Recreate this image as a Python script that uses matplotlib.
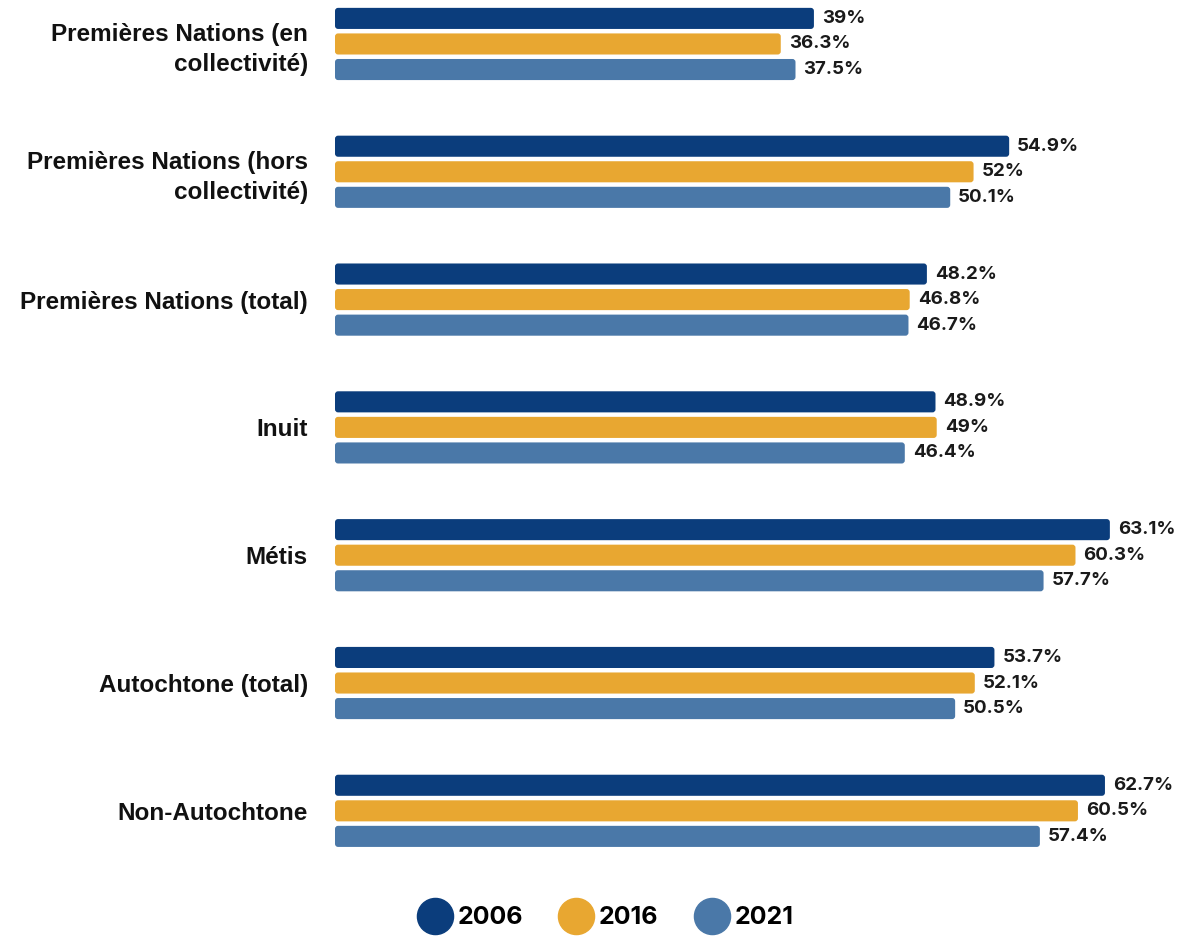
import matplotlib.pyplot as plt
from matplotlib.patches import FancyBboxPatch
from matplotlib.lines import Line2D

plt.rcParams['font.family'] = ['Inter', 'DejaVu Sans']

# data
categories = ["Premières Nations (en\ncollectivité)", "Premières Nations (hors\ncollectivité)",
              "Premières Nations (total)", "Inuit", "Métis", "Autochtone (total)", "Non-Autochtone"]
years = ["2006", "2016", "2021"]
v2006 = [39, 54.9, 48.2, 48.9, 63.1, 53.7, 62.7]
v2016 = [36.3, 52, 46.8, 49, 60.3, 52.1, 60.5]
v2021 = [37.5, 50.1, 46.7, 46.4, 57.7, 50.5, 57.4]
labels2006 = ["39%", "54.9%", "48.2%", "48.9%", "63.1%", "53.7%", "62.7%"]
labels2016 = ["36.3%", "52%", "46.8%", "49%", "60.3%", "52.1%", "60.5%"]
labels2021 = ["37.5%", "50.1%", "46.7%", "46.4%", "57.7%", "50.5%", "57.4%"]
colors = ["#0b3d7c", "#e8a731", "#4a78a8"]

fig = plt.figure(figsize=(11.8, 9.36), dpi=100)
ax = fig.add_axes([335/1180, 66/936, 845/1180, 870/936])

pitch = 0.2
h = 0.165
series = [v2006, v2016, v2021]
lab_series = [labels2006, labels2016, labels2021]
for k in range(3):
    pos = [i + (k - 1) * pitch for i in range(len(categories))]
    bars = ax.barh(pos, series[k], height=h, color=colors[k])
    for b, txt in zip(bars, lab_series[k]):
        b.set_visible(False)
        p = FancyBboxPatch((b.get_x(), b.get_y()), b.get_width(), b.get_height(),
                           boxstyle="round,pad=0,rounding_size=0.25",
                           mutation_aspect=0.096, color=colors[k], lw=0)
        ax.add_patch(p)
        ax.text(b.get_width() + 0.65, b.get_y() + b.get_height()/2, txt,
                va='center', ha='left', fontsize=13.5, fontweight='bold', color='#1a1a1a')

ax.set_xlim(0, 845/12.28)
ax.set_ylim(6.463, -0.344)
ax.set_yticks(range(len(categories)))
ax.set_yticklabels(categories, fontsize=17.5, fontweight='bold', color='#111111',
                   family=['Liberation Sans', 'DejaVu Sans'])
ax.tick_params(axis='y', length=0, pad=19.5)
ax.set_xticks([])
for s in ax.spines.values():
    s.set_visible(False)
for t in ax.get_yticklabels():
    t.set_multialignment('right')
    t.set_linespacing(1.37)

handles = [Line2D([], [], marker='o', ls='', markersize=26, markerfacecolor=c, markeredgecolor=c)
           for c in colors]
fig.legend(handles, years, loc='center', bbox_to_anchor=(605/1180, 1 - 918/936), ncol=3,
           frameon=False, prop={'size': 18, 'weight': 'bold'}, handletextpad=0.2,
           columnspacing=1.4, handlelength=1.44)

fig.savefig("out.png", dpi=100)
